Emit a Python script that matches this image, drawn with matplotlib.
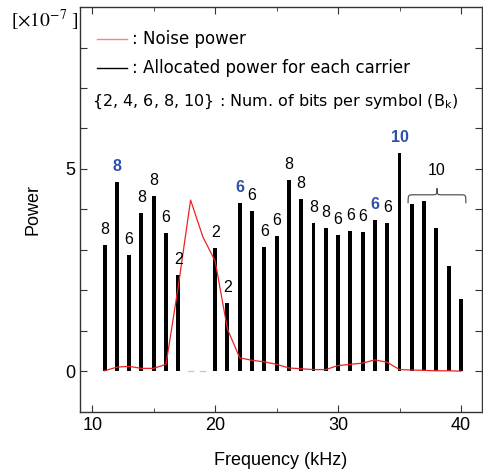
import numpy as np
import matplotlib
matplotlib.use("Agg")
import matplotlib.pyplot as plt
from matplotlib.path import Path
from matplotlib.patches import PathPatch

# Daten (Einheit 1e-7)
freq = list(range(11, 41))
alloc_power = [3.12, 4.68, 2.87, 3.91, 4.33, 3.42, 2.38, 0.0, 0.0, 3.04,
               1.68, 4.16, 3.96, 3.07, 3.34, 4.73, 4.26, 3.66, 3.54, 3.37,
               3.47, 3.44, 3.74, 3.66, 5.40, 4.13, 4.21, 3.54, 2.60, 1.78]
noise_power = [0.01, 0.10, 0.12, 0.07, 0.07, 0.17, 2.10, 4.23, 3.32, 2.72,
               1.04, 0.33, 0.27, 0.23, 0.17, 0.08, 0.06, 0.04, 0.04, 0.14,
               0.17, 0.20, 0.28, 0.22, 0.04, 0.03, 0.02, 0.01, 0.01, 0.00]
# Bits pro Symbol (None = keine Beschriftung)
bits = [8, 8, 6, 8, 8, 6, 2, None, None, 2,
        2, 6, 6, 6, 6, 8, 8, 8, 8, 6,
        6, 6, 6, 6, 10, None, None, None, None, None]
highlight = [12, 22, 33, 35]

plt.rcParams["font.family"] = ["Liberation Sans", "DejaVu Sans"]
plt.rcParams["mathtext.fontset"] = "stix"

fig = plt.figure(figsize=(4.83, 4.71), dpi=100)
ax = fig.add_axes([0.1656, 0.126, 0.832, 0.859])

for f, p in zip(freq, alloc_power):
    if p > 0:
        ax.bar(f, p, width=0.32, color="black", zorder=2)
    else:
        ax.plot([f - 0.2, f + 0.2], [0, 0], color="#c8c8c8", lw=1, zorder=2)

ax.plot(freq, noise_power, color="#ee2222", lw=0.9, zorder=3)

for f, p, b in zip(freq, alloc_power, bits):
    if b is None:
        continue
    if f in highlight:
        ax.annotate(str(b), (f, p), xytext=(0, 11), textcoords="offset points",
                    ha="center", va="center", fontsize=11.5, color="#3050a8",
                    fontweight="bold")
    else:
        ax.annotate(str(b), (f, p), xytext=(0, 11), textcoords="offset points",
                    ha="center", va="center", fontsize=11.5, color="black")

# geschweifte Klammer über den letzten Trägern
x0, x1, xm = 35.7, 40.4, 38.05
ye, yb, yt, r = 4.15, 4.36, 4.52, 0.45
verts = [(x0, ye), (x0, yb), (x0, yb), (x0 + r, yb),
         (xm - r, yb), (xm, yb), (xm, yb), (xm, yt),
         (xm, yb), (xm, yb), (xm + r, yb),
         (x1 - r, yb), (x1, yb), (x1, yb), (x1, ye)]
codes = [Path.MOVETO, Path.CURVE4, Path.CURVE4, Path.CURVE4,
         Path.LINETO, Path.CURVE4, Path.CURVE4, Path.CURVE4,
         Path.CURVE4, Path.CURVE4, Path.CURVE4,
         Path.LINETO, Path.CURVE4, Path.CURVE4, Path.CURVE4]
ax.add_patch(PathPatch(Path(verts, codes), fill=False, lw=0.9, color="#555555"))
ax.text(xm, 4.95, "10", ha="center", va="center", fontsize=11.5)

# Legende als Text
leg_font = ["DejaVu Sans"]
ax.plot([10.4, 12.8], [8.2, 8.2], color="#ee8888", lw=1)
ax.text(13.2, 8.2, ": Noise power", ha="left", va="center", fontsize=12, family=leg_font)
ax.plot([10.4, 12.8], [7.5, 7.5], color="black", lw=1)
ax.text(13.2, 7.5, ": Allocated power for each carrier", ha="left", va="center",
        fontsize=12, family=leg_font)
ax.text(9.95, 6.65, r"{2, 4, 6, 8, 10} : Num. of bits per symbol (B$_\mathregular{k}$)",
        ha="left", va="center", fontsize=11.5, family=leg_font)

ax.set_xlim(9, 41.7)
ax.set_ylim(-1, 9)
ax.set_xticks([10, 20, 30, 40])
ax.set_xticks([15, 25, 35], minor=True)
ax.set_yticks(range(0, 9))
ax.set_yticklabels(["0", "", "", "", "", "5", "", "", ""])
ax.tick_params(which="both", direction="in", top=True, right=True,
               labelsize=13, color="#333333")
ax.tick_params(which="major", length=5)
ax.tick_params(which="minor", length=3)
for s in ax.spines.values():
    s.set_color("#333333")
    s.set_linewidth(1)

ax.set_xlabel("Frequency (kHz)", fontsize=13, labelpad=13)
ax.set_ylabel("Power", fontsize=13, labelpad=17)
fig.text(0.022, 0.956, r"[$\times10^{-7}$ ]", fontsize=14, family=["Liberation Serif", "DejaVu Serif"],
         ha="left", va="center")

fig.savefig("out.png", dpi=100)
